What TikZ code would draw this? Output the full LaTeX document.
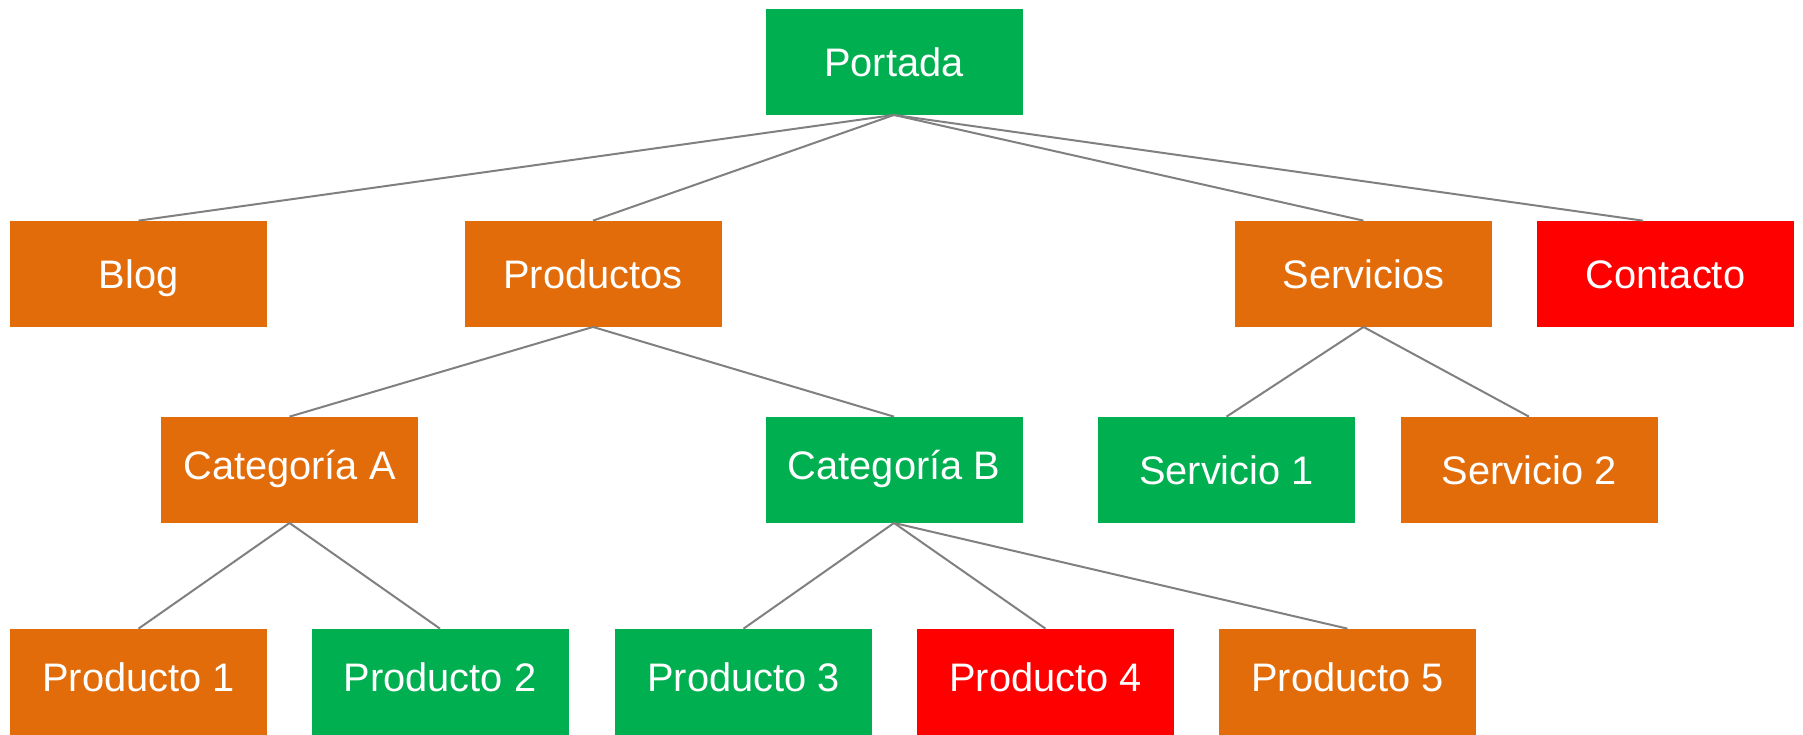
\documentclass[tikz,border=0pt]{standalone}
\usepackage{fontspec}
\setmainfont{Liberation Sans}
\definecolor{cgreen}{RGB}{0,176,80}
\definecolor{corange}{RGB}{227,108,10}
\definecolor{cred}{RGB}{255,0,0}
\definecolor{cline}{RGB}{128,128,128}
\tikzset{
  box/.style={rectangle, inner sep=0pt, minimum width=128.5pt, minimum height=52.75pt,
    text=white, font=\fontsize{19.9}{24}\selectfont, text height=14.2pt, text depth=0pt},
  gbox/.style={box, fill=cgreen},
  obox/.style={box, fill=corange},
  rbox/.style={box, fill=cred},
  raised/.style={text depth=4.4pt},
  link/.style={draw=cline, line width=1pt}
}
\begin{document}
\begin{tikzpicture}[x=0.5pt, y=-0.5pt]
\useasboundingbox (0,0) rectangle (1803,734);
% row 1
\node[gbox] (portada) at (894,61.8) {Portada};
% row 2
\node[obox] (blog) at (138.5,273.8) {Blog};
\node[obox] (productos) at (593,273.8) {Productos};
\node[obox] (servicios) at (1363.5,273.8) {Servicios};
\node[rbox] (contacto) at (1665.5,273.8) {Contacto};
% row 3
\node[obox, raised] (cata) at (289.5,469.8) {Categoría A};
\node[gbox, raised] (catb) at (894,469.8) {Categoría B};
\node[gbox] (serv1) at (1226.5,469.8) {Servicio 1};
\node[obox] (serv2) at (1529,469.8) {Servicio 2};
% row 4
\node[obox, raised] (p1) at (138.5,681.8) {Producto 1};
\node[gbox, raised] (p2) at (440,681.8) {Producto 2};
\node[gbox, raised] (p3) at (743.5,681.8) {Producto 3};
\node[rbox, raised] (p4) at (1045.5,681.8) {Producto 4};
\node[obox, raised] (p5) at (1347.5,681.8) {Producto 5};
% connectors
\draw[link] (portada.south) -- (blog.north);
\draw[link] (portada.south) -- (productos.north);
\draw[link] (portada.south) -- (servicios.north);
\draw[link] (portada.south) -- ([xshift=-11.25pt]contacto.north);
\draw[link] (productos.south) -- (cata.north);
\draw[link] (productos.south) -- (catb.north);
\draw[link] (servicios.south) -- (serv1.north);
\draw[link] (servicios.south) -- (serv2.north);
\draw[link] (cata.south) -- (p1.north);
\draw[link] (cata.south) -- (p2.north);
\draw[link] (catb.south) -- (p3.north);
\draw[link] (catb.south) -- (p4.north);
\draw[link] (catb.south) -- (p5.north);
\end{tikzpicture}
\end{document}
